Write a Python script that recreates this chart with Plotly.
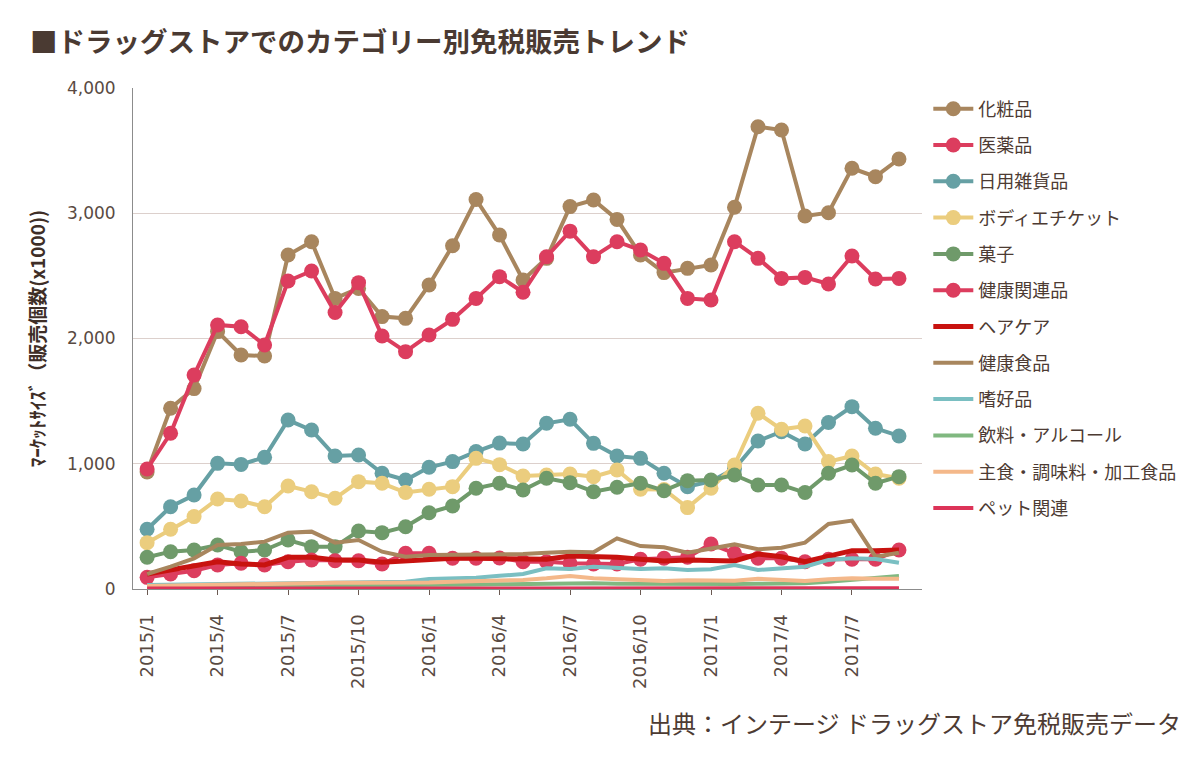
import plotly.graph_objects as go

months = ["2015/1", "2015/2", "2015/3", "2015/4", "2015/5", "2015/6", "2015/7", "2015/8", "2015/9",
          "2015/10", "2015/11", "2015/12", "2016/1", "2016/2", "2016/3", "2016/4", "2016/5", "2016/6",
          "2016/7", "2016/8", "2016/9", "2016/10", "2016/11", "2016/12", "2017/1", "2017/2", "2017/3",
          "2017/4", "2017/5", "2017/6", "2017/7", "2017/8", "2017/9"]
tick_labels = months[::3]

cosmetics = [935, 1443, 1600, 2055, 1868, 1860, 2667, 2773, 2320, 2400, 2175, 2161, 2427, 2741, 3110, 2826,
             2467, 2640, 3053, 3106, 2951, 2667, 2526, 2560, 2587, 3048, 3691, 3665, 2978, 3004, 3359, 3292, 3433]
medicine = [958, 1243, 1708, 2108, 2094, 1948, 2459, 2539, 2207, 2446, 2020, 1895, 2028, 2153, 2320, 2494,
            2369, 2653, 2857, 2653, 2773, 2706, 2600, 2320, 2307, 2773, 2640, 2480, 2488, 2435, 2659, 2475, 2480]
daily_goods = [477, 657, 750, 1003, 995, 1051, 1349, 1269, 1062, 1070, 924, 870, 972, 1017, 1097, 1165,
               1158, 1323, 1355, 1163, 1062, 1043, 924, 817, 860, 960, 1182, 1256, 1158, 1329, 1456, 1283, 1222]
body_etiquette = [370, 477, 578, 719, 703, 657, 822, 777, 724, 857, 844, 770, 796, 817, 1043, 993,
                  902, 910, 918, 897, 950, 796, 795, 650, 804, 990, 1403, 1275, 1301, 1017, 1062, 918, 885]
sweets = [253, 298, 311, 351, 298, 311, 391, 338, 338, 463, 450, 497, 609, 663, 804, 844,
          790, 884, 849, 777, 812, 844, 785, 865, 870, 910, 830, 830, 770, 924, 990, 844, 897]
health_related = [93, 120, 146, 192, 205, 192, 218, 232, 225, 225, 200, 285, 285, 245, 245, 248,
                  218, 218, 205, 200, 200, 237, 245, 253, 359, 285, 245, 245, 218, 237, 237, 237, 311]
hair_care = [120, 152, 178, 218, 200, 192, 253, 253, 232, 232, 213, 224, 237, 245, 245, 245,
             237, 237, 263, 263, 253, 237, 224, 232, 232, 224, 279, 258, 218, 263, 306, 306, 311]
health_food = [120, 178, 245, 351, 359, 378, 450, 458, 370, 391, 298, 258, 271, 271, 279, 279,
               279, 290, 298, 293, 404, 343, 333, 290, 324, 356, 317, 330, 370, 519, 546, 258, 290]
luxury = [32, 35, 38, 40, 42, 45, 48, 50, 52, 55, 55, 58, 80, 85, 90, 105,
          120, 165, 160, 178, 165, 160, 165, 152, 157, 192, 152, 165, 178, 232, 245, 240, 210]
beverages = [15, 16, 18, 20, 22, 22, 24, 25, 26, 27, 28, 28, 30, 32, 35, 38,
             40, 44, 50, 46, 42, 40, 40, 40, 40, 40, 42, 44, 45, 58, 72, 85, 104]
staple_food = [24, 28, 32, 35, 38, 40, 45, 48, 50, 50, 50, 48, 52, 58, 62, 66,
               72, 85, 104, 85, 77, 66, 64, 69, 66, 66, 82, 72, 64, 77, 85, 82, 82]
pet = [3, 3, 3, 3, 3, 4, 4, 4, 4, 4, 4, 4, 4, 5, 5, 5, 5, 5, 5, 5, 5, 5, 5, 5, 5, 5, 5, 6, 6, 6, 6, 6, 6]

series = [
    ("化粧品", cosmetics, "#A8865E", True, 4),
    ("医薬品", medicine, "#DC3D5E", True, 4),
    ("日用雑貨品", daily_goods, "#66A0A4", True, 4),
    ("ボディエチケット", body_etiquette, "#EBCD7E", True, 4),
    ("菓子", sweets, "#6F9A6A", True, 4),
    ("健康関連品", health_related, "#DC3D5E", True, 4),
    ("ヘアケア", hair_care, "#C8120F", False, 5),
    ("健康食品", health_food, "#A8865E", False, 4),
    ("嗜好品", luxury, "#7ABFC2", False, 4),
    ("飲料・アルコール", beverages, "#80B880", False, 4),
    ("主食・調味料・加工食品", staple_food, "#F4B88A", False, 4),
    ("ペット関連", pet, "#DC3358", False, 4),
]

text_color = "#4D3B33"
fig = go.Figure()
for i, (name, vals, color, markers, lw) in enumerate(series):
    fig.add_trace(go.Scatter(
        x=months, y=vals, name=name,
        mode="lines+markers" if markers else "lines",
        line=dict(color=color, width=lw),
        marker=dict(color=color, size=15) if markers else None,
        legendgroup=f"g{i}",
    ))

fig.update_layout(
    width=1204, height=757,
    margin=dict(l=133, r=282, t=88, b=168),
    paper_bgcolor="white", plot_bgcolor="white",
    font=dict(family="Noto Sans CJK JP", color=text_color),
    title=dict(text="<b>■ドラッグストアでのカテゴリー別免税販売トレンド</b>",
               x=30 / 1204, xanchor="left", xref="container",
               y=1 - 42 / 757, yanchor="middle", yref="container",
               font=dict(size=27.5, color="#4A3A32", family="Noto Sans CJK JP")),
    showlegend=True,
    legend=dict(x=1.008, xanchor="left", y=0.995, yanchor="top",
                traceorder="grouped", tracegroupgap=9.9,
                font=dict(size=18, color=text_color, family="Noto Sans CJK JP"),
                bgcolor="rgba(0,0,0,0)", itemwidth=40),
    xaxis=dict(type="category", categoryorder="array", categoryarray=months,
               range=[-0.6, 32.98], tickmode="array", tickvals=tick_labels, ticktext=tick_labels,
               tickangle=-90, ticks="outside", ticklen=5, tickcolor="#6B5A52",
               ticklabelstandoff=12,
               showline=True, linecolor="#8C8C8C", linewidth=1, showgrid=False,
               tickfont=dict(family="DejaVu Sans", size=18, color="#594A42")),
    yaxis=dict(range=[0, 4000], tickvals=[0, 1000, 2000, 3000, 4000], tickformat=",",
               showline=True, linecolor="#8C8C8C", linewidth=1,
               showgrid=True, gridcolor="#DCD0CC", gridwidth=1, zeroline=False,
               ticklabelstandoff=13,
               tickfont=dict(family="DejaVu Sans", size=17, color="#594A42"),
               title=dict(text="<b>ﾏｰｹｯﾄｻｲｽﾞ（販売個数(x1000))</b>", standoff=16,
                          font=dict(size=19, color="#3E2E27", family="Noto Sans CJK JP"))),
    annotations=[dict(text="出典：インテージ ドラッグストア免税販売データ",
                      xref="paper", yref="paper", x=(1183 - 133) / 789, xanchor="right",
                      y=-(722 - 589) / 501, yanchor="middle", showarrow=False,
                      font=dict(size=24, color=text_color, family="Noto Sans CJK JP"))],
)

fig.write_html("out.html")
